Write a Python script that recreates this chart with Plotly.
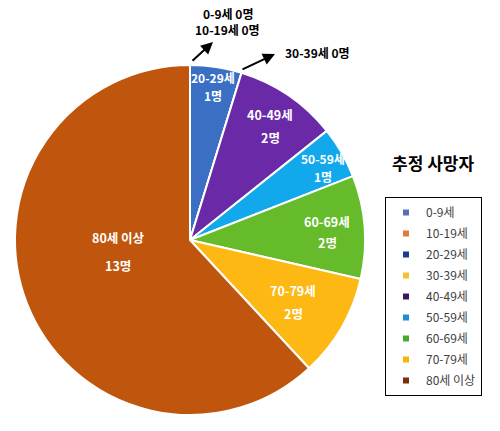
import plotly.graph_objects as go

categories = ["0-9세", "10-19세", "20-29세", "30-39세", "40-49세", "50-59세", "60-69세", "70-79세", "80세 이상"]
deaths = [0, 0, 1, 0, 2, 1, 2, 2, 13]
colors = ["#5B72B8", "#E07B39", "#3A6FC4", "#F2C230", "#6A2AA8", "#12A8EC", "#66BB2A", "#FDB813", "#C0560E"]
legend_colors = ["#5B6FB5", "#E07A3A", "#1F3A8A", "#F2C12E", "#3A1A5C", "#1B8FD0", "#4CA82A", "#F5B800", "#7A2E0A"]

W, H = 500, 431
FONT = "Noto Sans CJK KR"

def px(x):
    return x / W

def py(y):
    return 1 - y / H

fig = go.Figure()
fig.add_trace(go.Pie(
    labels=categories,
    values=deaths,
    sort=False,
    direction="clockwise",
    rotation=0,
    marker=dict(colors=colors, line=dict(color="white", width=2)),
    textinfo="none",
    hoverinfo="label+value",
    domain=dict(x=[0.03, 0.73], y=[0.0371, 0.8492]),
    showlegend=False,
))

# legend entries
for i, (cat, col) in enumerate(zip(categories, legend_colors)):
    fig.add_trace(go.Scatter(
        x=[None], y=[None], mode="markers", name=cat,
        marker=dict(symbol="square", size=6, color=col),
        legendgroup=f"g{i}", showlegend=True, hoverinfo="skip",
    ))

# inside labels (text positions in pixels)
inside = [
    (2, 213, 77, 95, 12),
    (4, 270, 115, 137, 12.5),
    (5, 323, 158, 177, 12),
    (6, 327, 221, 243, 12.5),
    (7, 293, 290, 313, 12.5),
    (8, 118, 237, 265, 12.5),
]
ann = []
for idx, x, y1, y2, fs in inside:
    ann.append(dict(x=px(x), y=py(y1), xref="paper", yref="paper", text=f"<b>{categories[idx]}</b>",
                    xanchor="center", yanchor="middle",
                    showarrow=False, font=dict(family=FONT, size=fs, color="white")))
    ann.append(dict(x=px(x), y=py(y2), xref="paper", yref="paper", text=f"<b>{deaths[idx]}명</b>",
                    xanchor="center", yanchor="middle",
                    showarrow=False, font=dict(family=FONT, size=fs, color="white")))

# outside labels for zero categories
for idx, x, y in [(0, 228, 13), (1, 227, 30), (3, 317, 52)]:
    ann.append(dict(x=px(x), y=py(y), xref="paper", yref="paper", text=f"<b>{categories[idx]} {deaths[idx]}명</b>",
                    xanchor="center", yanchor="middle",
                    showarrow=False, font=dict(family=FONT, size=12, color="black")))

# arrows
ann.append(dict(x=px(213), y=py(42), xref="paper", yref="paper", text="", showarrow=True,
                ax=-22, ay=20, arrowhead=2, arrowsize=1.2, arrowwidth=2, arrowcolor="black", standoff=0, startstandoff=0))
ann.append(dict(x=px(275), y=py(54), xref="paper", yref="paper", text="", showarrow=True,
                ax=-34, ay=16, arrowhead=2, arrowsize=1.2, arrowwidth=2, arrowcolor="black", standoff=0, startstandoff=0))

# legend title
ann.append(dict(x=px(433), y=py(162), xref="paper", yref="paper", text="<b>추정 사망자</b>",
                xanchor="center", yanchor="middle",
                showarrow=False, font=dict(family=FONT, size=17, color="black")))

fig.update_layout(
    width=W, height=H,
    margin=dict(l=0, r=0, t=0, b=0, autoexpand=False),
    paper_bgcolor="white",
    plot_bgcolor="white",
    xaxis=dict(visible=False),
    yaxis=dict(visible=False),
    annotations=ann,
    legend=dict(
        x=px(385), y=py(197), xanchor="left", yanchor="top",
        bordercolor="black", borderwidth=1,
        font=dict(family=FONT, size=12, color="#404040"),
        itemwidth=30,
        tracegroupgap=2,
        traceorder="grouped",
    ),
)

fig.write_html("out.html", config={"displayModeBar": False},
               post_script="document.body.style.margin='0';document.body.style.overflow='hidden';")
